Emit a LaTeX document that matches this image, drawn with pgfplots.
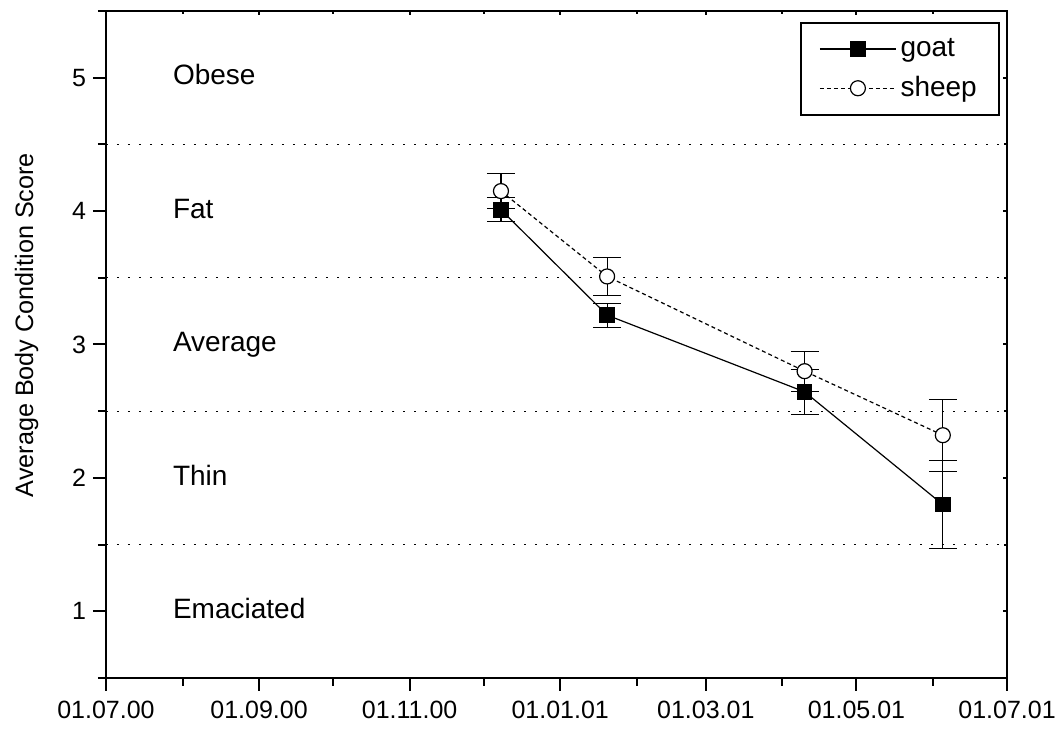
\documentclass[border=0pt]{standalone}
\usepackage{fontspec}
\setmainfont{Liberation Sans}
\usepackage{pgfplots}
\pgfplotsset{compat=1.18}

\begin{document}
\begin{tikzpicture}
\pgfplotsset{
  common/.style={
    scale only axis, width=450.5pt, height=333.5pt,
    xmin=0, xmax=365, ymin=0.5, ymax=5.5,
    at={(0,0)}, anchor=south west,
    axis line style={line width=1pt},
    xtick={0,62,123,184,243,304,365},
    minor xtick={31,92,153,215,274,335},
    ytick={1,2,3,4,5},
    minor ytick={0.5,1.5,2.5,3.5,4.5,5.5},
    tick style={line width=1pt, black},
  }
}
\begin{axis}[common,
  xtick pos=left, ytick pos=left,
  tick align=outside,
  major tick length=6.5pt, minor tick length=4pt,
  xticklabels={01.07.00,01.09.00,01.11.00,01.01.01,01.03.01,01.05.01,01.07.01},
  ticklabel style={font=\fontsize{12.5}{15}\selectfont},
  /pgf/number format/assume math mode=true,
  xticklabel style={yshift=-1.5pt},
  ylabel={Average Body Condition Score},
  ylabel style={font=\fontsize{12.6}{15}\selectfont, at={(axis description cs:-0.081,0.529)}, anchor=base},
  legend style={at={(rel axis cs:0.992,0.9835)}, anchor=north east, draw=black, line width=1pt, fill=white,
    font=\fontsize{14}{16}\selectfont, inner xsep=9pt, inner ysep=5.75pt, row sep=4.5pt},
  legend cell align=left,
  legend image code/.code={\draw[#1,mark repeat=2,mark phase=2] plot coordinates {(0pt,0pt) (19pt,0pt) (38pt,0pt)};},
]
\addplot[black, line width=0.5pt, dash pattern=on 1pt off 4.5pt, forget plot] coordinates {(0,4.5) (365,4.5)};
\addplot[black, line width=0.5pt, dash pattern=on 1pt off 4.5pt, forget plot] coordinates {(0,3.5) (365,3.5)};
\addplot[black, line width=0.5pt, dash pattern=on 1pt off 4.5pt, forget plot] coordinates {(0,2.5) (365,2.5)};
\addplot[black, line width=0.5pt, dash pattern=on 1pt off 4.5pt, forget plot] coordinates {(0,1.5) (365,1.5)};

\addplot[black, line width=0.6pt, mark=square*, mark size=3.6pt, mark options={solid, fill=black},
  error bars/.cd, y dir=both, y explicit,
  error bar style={line width=0.6pt, solid},
  error mark options={rotate=90, mark size=7pt, line width=0.6pt}]
  coordinates {
  (160,4.01) +- (0,0.09)
  (203,3.22) +- (0,0.09)
  (283,2.645) +- (0,0.17)
  (339,1.80) +- (0,0.33)
  };
\addplot[black, line width=0.6pt, dash pattern=on 2pt off 1.5pt, mark=*, mark size=3.75pt, mark options={solid, fill=white},
  error bars/.cd, y dir=both, y explicit,
  error bar style={line width=0.6pt, solid},
  error mark options={rotate=90, mark size=7pt, line width=0.6pt}]
  coordinates {
  (160,4.15) +- (0,0.13)
  (203,3.51) +- (0,0.14)
  (283,2.80) +- (0,0.15)
  (339,2.32) +- (0,0.27)
  };
\legend{goat, sheep}

\begin{scope}[every node/.style={anchor=west, inner sep=0pt, text height=0.72em, text depth=0pt, font=\fontsize{14}{16}\selectfont}]
\node at (axis cs:27,5) {Obese};
\node at (axis cs:27,4) {Fat};
\node at (axis cs:27,3) {Average};
\node at (axis cs:27,2) {Thin};
\node at (axis cs:27,1) {Emaciated};
\end{scope}
\end{axis}

\begin{axis}[common,
  xtick pos=right, ytick pos=right,
  tick align=inside,
  major tick length=2pt, minor tick length=1.5pt,
  xticklabels={}, yticklabels={},
]
\end{axis}

\pgfresetboundingbox
\path (-53pt,-26.5pt) rectangle (477.5pt,339pt);
\end{tikzpicture}
\end{document}
